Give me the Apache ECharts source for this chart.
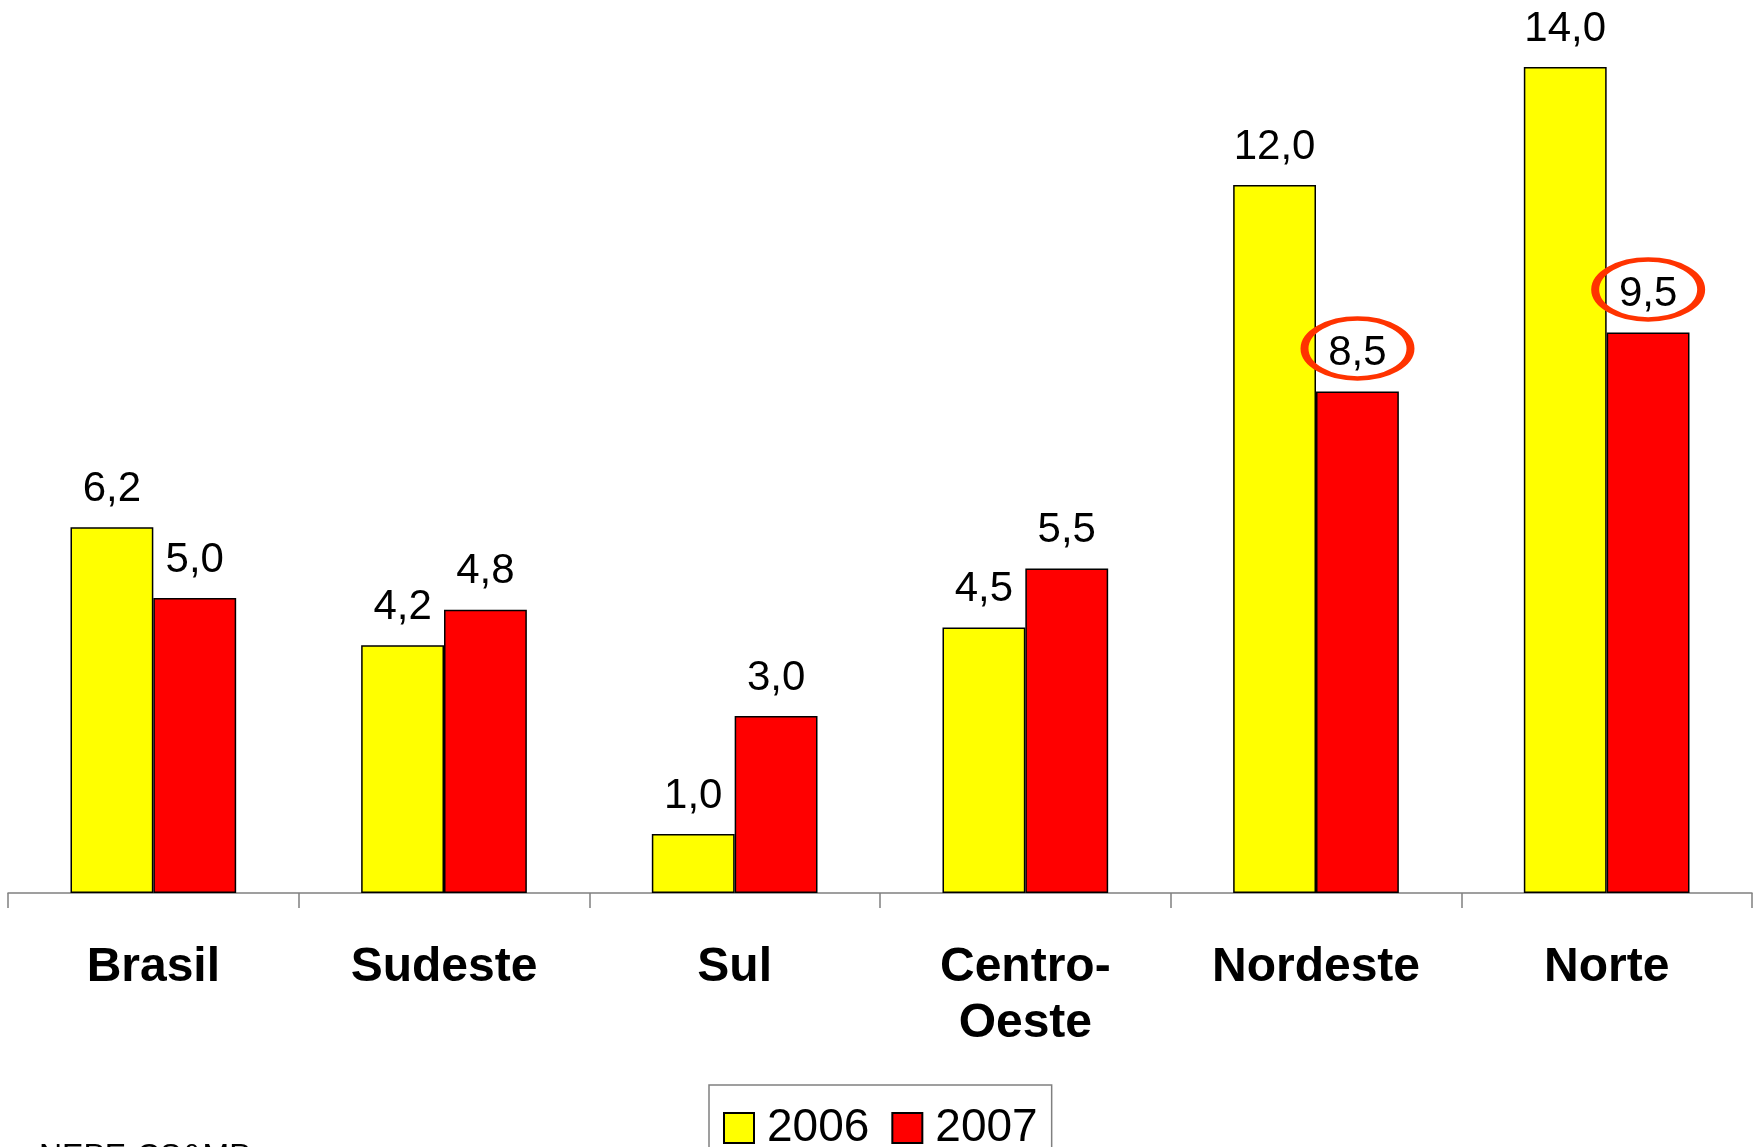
<!DOCTYPE html>
<html>
<head>
<meta charset="utf-8">
<script src="https://cdn.jsdelivr.net/npm/echarts@6/dist/echarts.min.js"></script>
<style>
  html, body { margin: 0; padding: 0; background: #fff; }
  #chart { width: 1761px; height: 1147px; }
</style>
</head>
<body>
<div id="chart"></div>
<script>
// dados
var regioes = ['Brasil', 'Sudeste', 'Sul', 'Centro-\nOeste', 'Nordeste', 'Norte'];
var anos = ['2006', '2007'];
var valores2006 = [6.2, 4.2, 1.0, 4.5, 12.0, 14.0];
var valores2007 = [5.0, 4.8, 3.0, 5.5, 8.5, 9.5];
// regioes com o valor de 2007 destacado por uma elipse
var destaques = ['Nordeste', 'Norte'];

var fonte = 'Arial, "Liberation Sans", sans-serif';

function fmt(p) {
    return p.value.toFixed(1).replace('.', ',');
}

var dadosDestaque = regioes.map(function (r, i) {
    return destaques.indexOf(r) >= 0 ? valores2007[i] : '-';
});

var chart = echarts.init(document.getElementById('chart'));
var option = {
    backgroundColor: '#ffffff',
    animation: false,
    textStyle: { fontFamily: fonte },
    grid: { left: 8, right: 9, top: 8, bottom: 254, containLabel: false },
    legend: {
        data: anos,
        left: 709,
        top: 1085,
        orient: 'horizontal',
        icon: 'rect',
        borderColor: '#808080',
        borderWidth: 1.5,
        padding: [20, 14, 20, 14],
        itemWidth: 30,
        itemHeight: 30,
        itemGap: 22,
        itemStyle: { borderColor: '#000', borderWidth: 2 },
        textStyle: { fontFamily: fonte, fontSize: 46, color: '#000', padding: [0, 0, 0, 8] }
    },
    xAxis: {
        type: 'category',
        data: regioes,
        axisLine: { lineStyle: { color: '#808080', width: 1.5 } },
        axisTick: { show: true, length: 15, alignWithLabel: false, lineStyle: { color: '#808080', width: 1.5 } },
        axisLabel: {
            interval: 0,
            margin: 47,
            fontFamily: fonte,
            fontSize: 48,
            fontWeight: 'bold',
            lineHeight: 56,
            color: '#000'
        }
    },
    yAxis: {
        type: 'value',
        min: 0,
        max: 15,
        show: false,
        splitLine: { show: false }
    },
    series: [{
        name: '2006',
        type: 'bar',
        data: valores2006,
        barGap: '0%',
        barCategoryGap: '43%',
        itemStyle: { color: '#ffff00', borderColor: '#000', borderWidth: 1.5 },
        label: {
            show: true,
            position: 'top',
            distance: 14,
            formatter: fmt,
            fontFamily: fonte,
            fontSize: 42,
            lineHeight: 48,
            color: '#000'
        }
    }, {
        name: '2007',
        type: 'bar',
        data: valores2007,
        itemStyle: { color: '#ff0000', borderColor: '#000', borderWidth: 1.5 },
        label: {
            show: true,
            position: 'top',
            distance: 14,
            formatter: fmt,
            fontFamily: fonte,
            fontSize: 42,
            lineHeight: 48,
            color: '#000'
        }
    }, {
        // elipses em volta dos rotulos destacados
        name: 'destaque',
        type: 'scatter',
        data: dadosDestaque,
        symbol: 'path://M0,30 A53,30 0 1,1 106,30 A53,30 0 1,1 0,30 Z',
        symbolSize: [106, 60],
        symbolOffset: [41.5, -43],
        silent: true,
        z: 5,
        itemStyle: { color: 'rgba(0,0,0,0)', borderColor: '#ff3300', borderWidth: 6, opacity: 1 }
    }],
    graphic: [{
        type: 'text',
        x: 4,
        y: 1141,
        style: {
            text: 'Fonte:',
            fontFamily: fonte,
            fontSize: 32,
            fill: '#000',
            textAlign: 'right',
            textVerticalAlign: 'top'
        }
    }, {
        type: 'text',
        x: 39,
        y: 1141,
        style: {
            text: 'NEPE-CS&MP',
            fontFamily: fonte,
            fontSize: 32,
            fill: '#000',
            textVerticalAlign: 'top'
        }
    }]
};
chart.setOption(option);
</script>
</body>
</html>
